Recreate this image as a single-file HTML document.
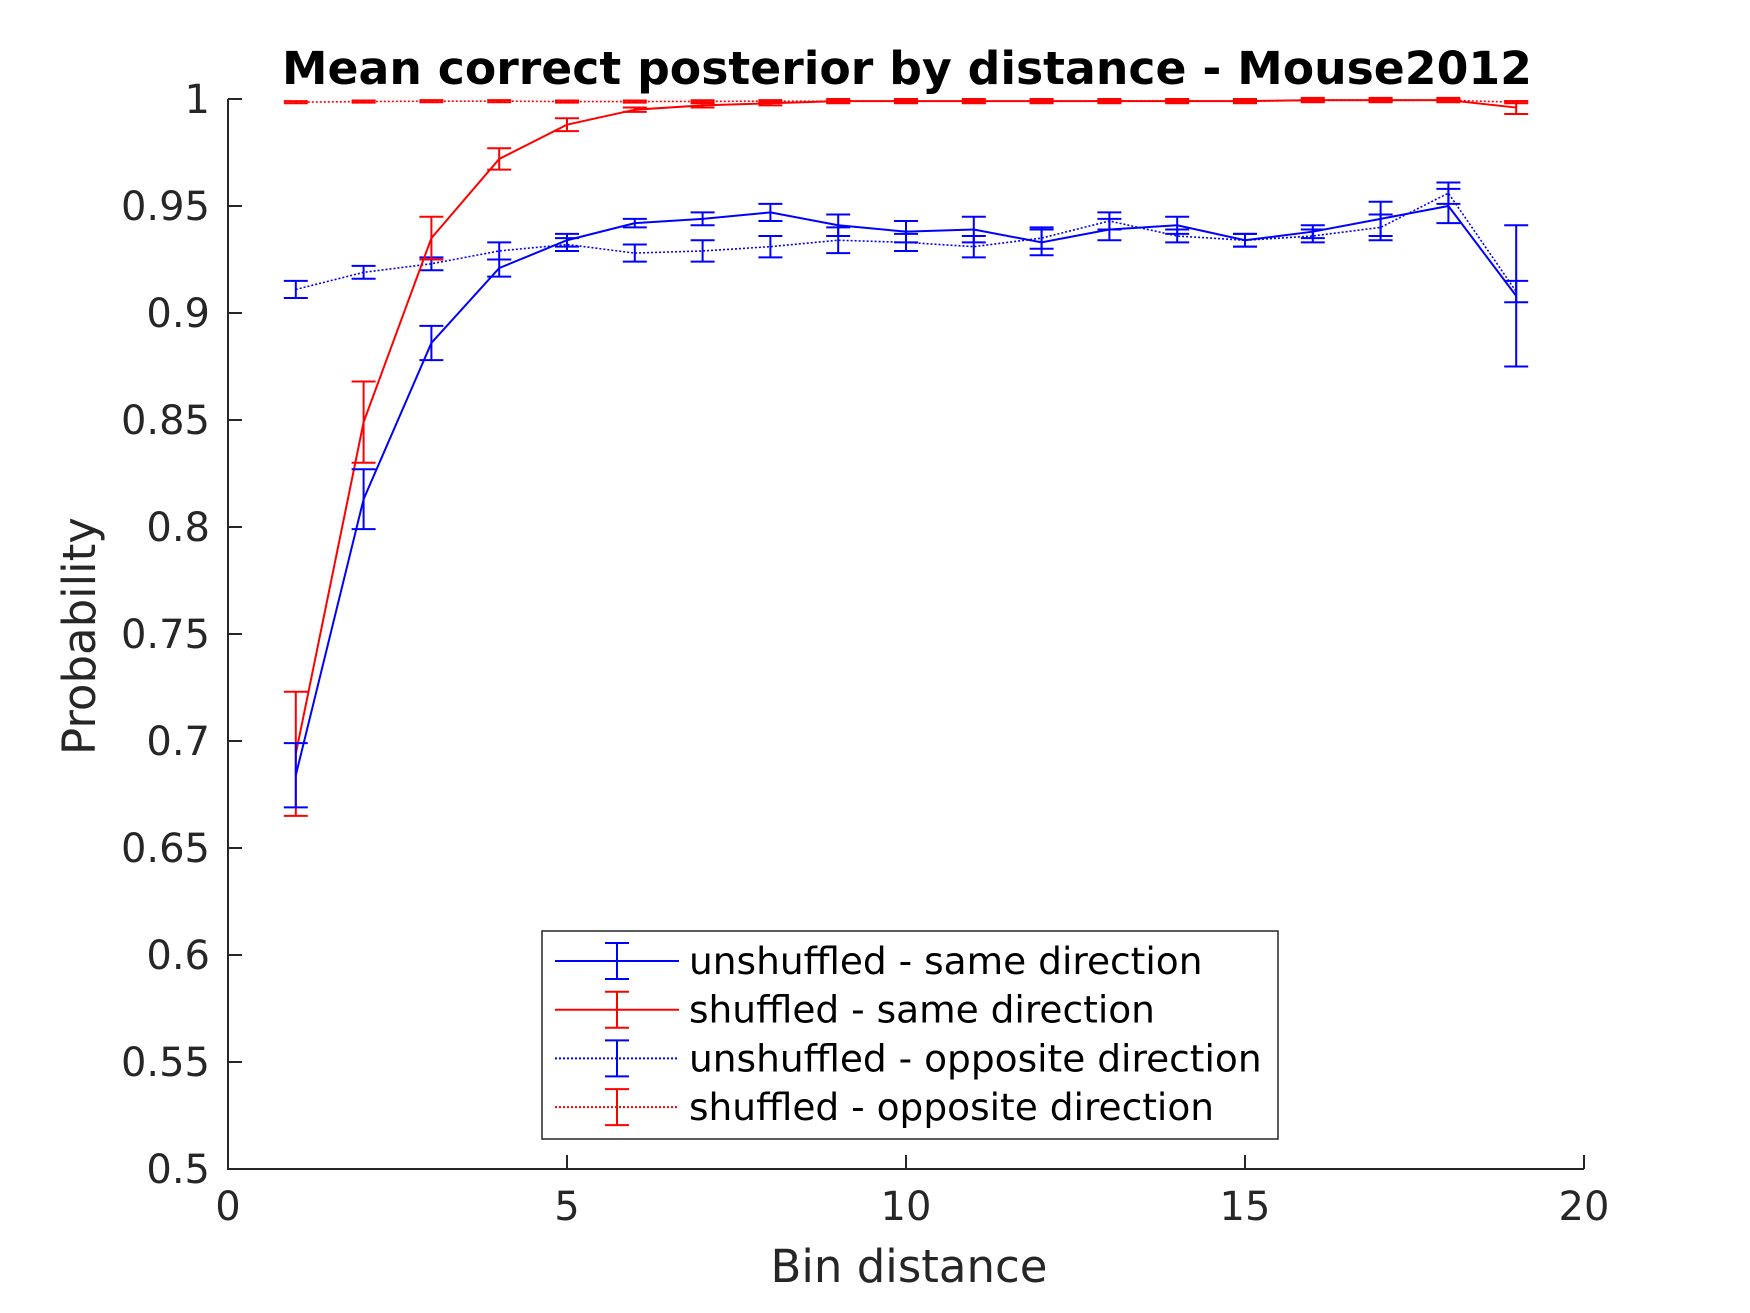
<!DOCTYPE html>
<html><head><meta charset="utf-8"><style>
body{margin:0;background:#fff;}
svg{display:block;font-family:"DejaVu Sans","Liberation Sans",sans-serif;}
</style></head><body>
<svg id="chart" width="1750" height="1313" viewBox="0 0 1750 1313" xmlns="http://www.w3.org/2000/svg">
<rect width="1750" height="1313" fill="#fff"/>
<g id="plot"></g>
</svg>
<script>
const xValues=[1,2,3,4,5,6,7,8,9,10,11,12,13,14,15,16,17,18,19];
const unshufSame=[0.684,0.813,0.886,0.921,0.934,0.942,0.944,0.947,0.941,0.938,0.939,0.933,0.939,0.941,0.934,0.938,0.944,0.950,0.908];
const unshufSameErr=[0.015,0.014,0.008,0.004,0.003,0.002,0.003,0.004,0.005,0.005,0.006,0.006,0.005,0.004,0.003,0.003,0.008,0.008,0.033];
const shufSame=[0.694,0.849,0.935,0.972,0.988,0.995,0.997,0.998,0.999,0.999,0.999,0.999,0.999,0.999,0.999,0.9995,0.9995,0.9995,0.996];
const shufSameErr=[0.029,0.019,0.010,0.005,0.003,0.001,0.001,0.001,0.001,0.001,0.001,0.001,0.001,0.001,0.001,0.001,0.001,0.001,0.003];
const unshufOpp=[0.911,0.919,0.923,0.929,0.932,0.928,0.929,0.931,0.934,0.933,0.931,0.935,0.943,0.936,0.934,0.936,0.940,0.956,0.910];
const unshufOppErr=[0.004,0.003,0.003,0.004,0.003,0.004,0.005,0.005,0.006,0.004,0.005,0.005,0.004,0.003,0.003,0.003,0.006,0.005,0.005];
const shufOpp=[0.9985,0.9988,0.9990,0.9990,0.9988,0.9988,0.9989,0.9990,0.9990,0.9990,0.9990,0.9990,0.9991,0.9992,0.9990,0.9993,0.9993,0.9994,0.9985];
const shufOppErr=[0.0005,0.0005,0.0005,0.0005,0.0005,0.0005,0.0005,0.0005,0.0005,0.0005,0.0005,0.0005,0.0005,0.0005,0.0005,0.0005,0.0005,0.0005,0.0005];
const xTicks=[0,5,10,15,20];
const yTicks=[0.5,0.55,0.6,0.65,0.7,0.75,0.8,0.85,0.9,0.95,1];
const yTickLabels=["0.5","0.55","0.6","0.65","0.7","0.75","0.8","0.85","0.9","0.95","1"];
const legendLabels=["unshuffled - same direction","shuffled - same direction","unshuffled - opposite direction","shuffled - opposite direction"];

const L=228,R=1584,T=99,B=1169;
const sx=v=>L+(v-0)/(20-0)*(R-L);
const sy=v=>B-(v-0.5)/(1-0.5)*(B-T);
const NS="http://www.w3.org/2000/svg";
const g=document.getElementById('plot');
function mk(tag,attrs,parent){const e=document.createElementNS(NS,tag);for(const k in attrs)e.setAttribute(k,attrs[k]);(parent||g).appendChild(e);return e;}

const ax=mk('path',{d:`M${L},${T} L${L},${B} L${R},${B}`,fill:'none',stroke:'#262626','stroke-width':2});


xTicks.forEach(t=>{
  const tk=mk('line',{x1:sx(t),x2:sx(t),y1:B,y2:B-14,stroke:'#262626','stroke-width':2});
  
  
  const tl=mk('text',{x:sx(t),y:B+51,'text-anchor':'middle','font-size':40,fill:'#262626'});
  tl.textContent=String(t);
  
  
});
yTicks.forEach((t,i)=>{
  const tk=mk('line',{x1:L,x2:L+14,y1:sy(t),y2:sy(t),stroke:'#262626','stroke-width':2});
  
  
  const tl=mk('text',{x:210,y:sy(t)+14,'text-anchor':'end','font-size':40,fill:'#262626'});
  tl.textContent=yTickLabels[i];
  
  
});
const title=mk('text',{x:907,y:84,'text-anchor':'middle','font-size':45.7,'font-weight':'bold',fill:'#000'});
title.textContent='Mean correct posterior by distance - Mouse2012';


const xl=mk('text',{x:909,y:1282,'text-anchor':'middle','font-size':45,fill:'#262626'});
xl.textContent='Bin distance';


const yl=mk('text',{x:0,y:0,'text-anchor':'middle','font-size':45,fill:'#262626',transform:'translate(95,636) rotate(-90)'});
yl.textContent='Probability';



function series(vals,errs,color,dash,name){
  const sg=mk('g',{});
  
  
  const pts=vals.map((v,i)=>`${sx(xValues[i])},${sy(v)}`).join(' ');
  const pl=mk('polyline',{points:pts,fill:'none',stroke:color,'stroke-width':dash?1.6:2,'stroke-dasharray':dash||'none'},sg);
  
  
  vals.forEach((v,i)=>{
    const x=sx(xValues[i]),y1=sy(v-errs[i]),y2=sy(v+errs[i]);
    const eb=mk('path',{d:`M${x},${y1}L${x},${y2}M${x-12},${y1}L${x+12},${y1}M${x-12},${y2}L${x+12},${y2}`,stroke:color,'stroke-width':2,fill:'none'},sg);
    
    
  });
}
series(shufOpp,shufOppErr,'#ff0000','2 2','shuffled-opposite');
series(unshufOpp,unshufOppErr,'#0000ff','2 2','unshuffled-opposite');
series(shufSame,shufSameErr,'#ff0000',null,'shuffled-same');
series(unshufSame,unshufSameErr,'#0000ff',null,'unshuffled-same');

const lg=mk('g',{});


const lb=mk('rect',{x:542,y:931,width:736,height:208,fill:'#fff',stroke:'#262626','stroke-width':1.5},lg);


const colors=['#0000ff','#ff0000','#0000ff','#ff0000'];
const dashes=[null,null,'2 2','2 2'];
legendLabels.forEach((lab,i)=>{
  const y=961+i*48.7;
  const eg=mk('g',{},lg);
  
  
  mk('line',{x1:555,x2:679,y1:y,y2:y,stroke:colors[i],'stroke-width':2,'stroke-dasharray':dashes[i]||'none'},eg);
  mk('path',{d:`M617,${y-18}L617,${y+18}M605,${y-18}L629,${y-18}M605,${y+18}L629,${y+18}`,stroke:colors[i],'stroke-width':2,fill:'none'},eg);
  const t=mk('text',{x:689,y:y+13,'font-size':37.5,fill:'#000'},eg);
  t.textContent=lab;
});
</script>
</body></html>
